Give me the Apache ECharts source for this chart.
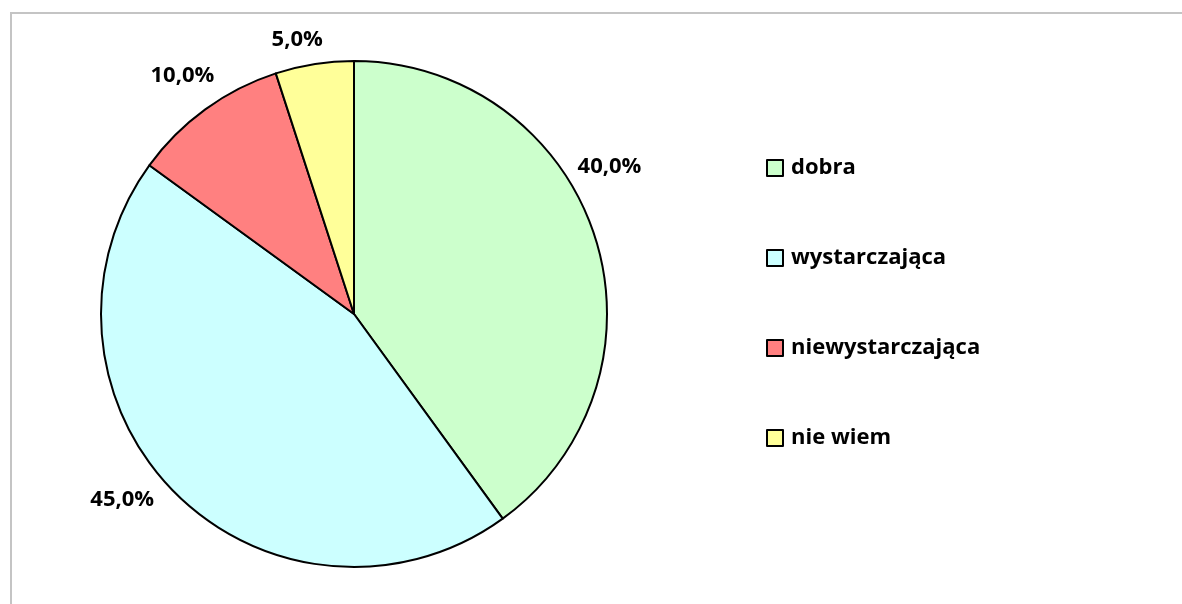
<!DOCTYPE html>
<html>
<head>
<meta charset="utf-8">
<script src="https://cdn.jsdelivr.net/npm/echarts@6/dist/echarts.min.js"></script>
<style>
  html, body { margin: 0; padding: 0; background: #fff; }
  #chart { position: absolute; left: 0; top: 0; width: 1182px; height: 604px; }
  .frame { position: absolute; left: 10px; top: 12px; width: 1200px; height: 620px;
           border: 2px solid #c4c4c4; box-sizing: border-box; pointer-events: none; }
</style>
</head>
<body>
<div class="frame"></div>
<div id="chart"></div>
<script>
// dane z wykresu
const categories = ['dobra', 'wystarczająca', 'niewystarczająca', 'nie wiem']
const values = [40.0, 45.0, 10.0, 5.0]
const colors = ['#ccffcc', '#ccffff', '#ff8080', '#ffff99']

// położenie etykiet (kąt w stopniach, odległość od środka) - jak "najlepsze dopasowanie" w Excelu
const labelAngles = [30, 218.7, 125.7, 101.7]
const labelDist = [295, 297, 294, 280]

const cx = 354
const cy = 314
const radius = 253

const chart = echarts.init(document.getElementById('chart'))

const option = {
  animation: false,
  textStyle: { fontFamily: 'Open Sans', fontWeight: 'bold' },
  legend: {
    orient: 'vertical',
    left: 766,
    top: 157,
    padding: 0,
    itemWidth: 16,
    itemHeight: 16,
    itemGap: 68,
    icon: 'rect',
    data: categories,
    itemStyle: { borderColor: '#000', borderWidth: 2 },
    textStyle: { fontSize: 22, fontWeight: 'bold', color: '#000', lineHeight: 22, padding: [0, 0, 0, 3] },
  },
  series: [
    {
      type: 'pie',
      center: [cx, cy],
      radius: radius,
      startAngle: 90,
      clockwise: true,
      data: categories.map((name, i) => ({
        name,
        value: values[i],
        itemStyle: { color: colors[i] },
      })),
      itemStyle: { borderColor: '#000', borderWidth: 2 },
      label: {
        show: true,
        position: 'outside',
        formatter: (p) => p.value.toFixed(1).replace('.', ',') + '%',
        fontSize: 22,
        fontWeight: 'bold',
        color: '#000',
      },
      labelLine: { show: false },
      labelLayout: (params) => {
        const i = params.dataIndex
        const a = labelAngles[i] * Math.PI / 180
        return {
          x: cx + labelDist[i] * Math.cos(a),
          y: cy - labelDist[i] * Math.sin(a),
          align: 'center',
          verticalAlign: 'middle',
        }
      },
      emphasis: { disabled: true },
    },
  ],
}

chart.setOption(option)
</script>
</body>
</html>
